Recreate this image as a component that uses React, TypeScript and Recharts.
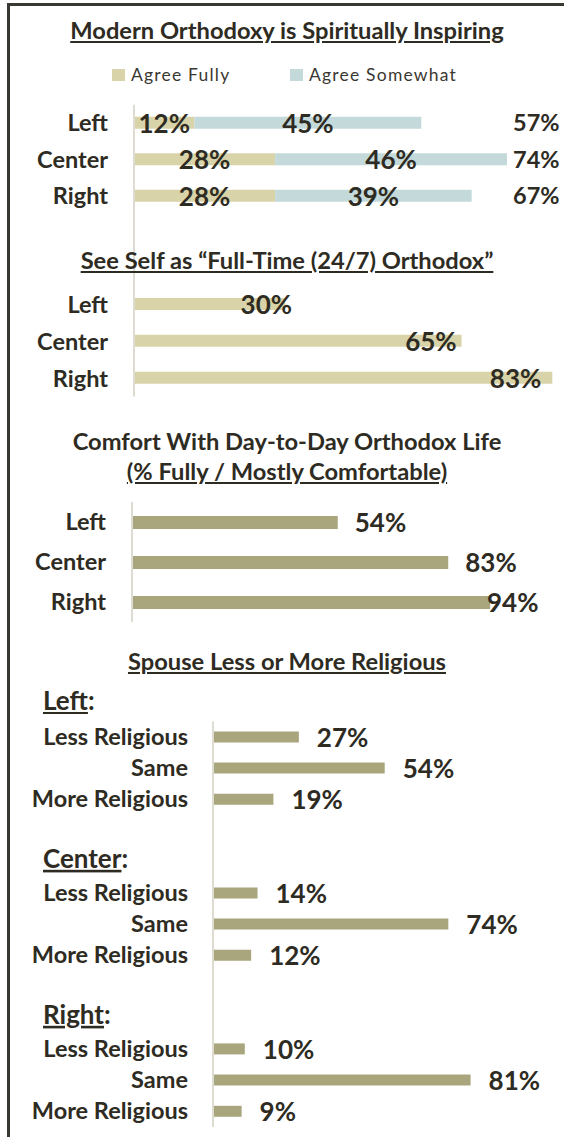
import { Bar, BarChart, LabelList, XAxis, YAxis } from "recharts";

// --- data ---
const GROUPS = ["Left", "Center", "Right"];

const AGREE_FULLY = [12, 28, 28];
const AGREE_SOMEWHAT = [45, 46, 39];
const AGREE_TOTAL = [57, 74, 67];

const FULL_TIME = [30, 65, 83];

const COMFORT = [54, 83, 94];

const SPOUSE_ROWS = [
	"Less Religious",
	"Same",
	"More Religious",
	"",
	"Center:",
	"Less Religious",
	"Same",
	"More Religious",
	"",
	"Right:",
	"Less Religious",
	"Same",
	"More Religious",
];
const SPOUSE_VALUES = [27, 54, 19, null, null, 14, 74, 12, null, null, 10, 81, 9];

const SERIES = [
	{ key: "fully", name: "Agree Fully", color: "#d8d3a8" },
	{ key: "somewhat", name: "Agree Somewhat", color: "#c4d9d9" },
];

// --- style ---
const FONT = "Lato, 'Open Sans', sans-serif";
const TEXT = "#2e2b23";
const AXIS = "#dedbd0";
const OLIVE = "#a9a57c";
const BEIGE = "#d8d3a8";

const inspiringData = GROUPS.map((group, i) => ({
	group,
	fully: AGREE_FULLY[i],
	somewhat: AGREE_SOMEWHAT[i],
	total: `${AGREE_TOTAL[i]}%`,
}));
const fullTimeData = GROUPS.map((group, i) => ({ group, value: FULL_TIME[i] }));
const comfortData = GROUPS.map((group, i) => ({ group, value: COMFORT[i] }));
const spouseData = SPOUSE_ROWS.map((label, i) => ({
	row: `r${i}`,
	label,
	value: SPOUSE_VALUES[i],
}));

const pct = (v: any) => `${v}%`;

function GroupTick(props: any) {
	const { x, y, payload, textAnchor } = props;
	return (
		<text
			x={x}
			y={y}
			dy="0.36em"
			textAnchor={textAnchor}
			fill={TEXT}
			fontFamily={FONT}
			fontWeight={700}
			fontSize={23.5}
		>
			{payload.value}
		</text>
	);
}

function TotalTick(props: any) {
	const { x, y, payload } = props;
	return (
		<text
			x={x}
			y={y}
			dy="0.36em"
			textAnchor="start"
			fill={TEXT}
			style={{ fontFamily: FONT, fontWeight: 700, fontSize: 23.5 }}
		>
			{payload.value}
		</text>
	);
}

function SpouseTick(props: any) {
	const { x, y, index } = props;
	const label = SPOUSE_ROWS[index] ?? "";
	if (label.endsWith(":")) {
		return (
			<text x={43} y={y} dy={6} fill={TEXT} fontFamily={FONT} fontWeight={700} fontSize={26}>
				<tspan style={{ textDecoration: "underline" }}>{label.slice(0, -1)}</tspan>
				<tspan>:</tspan>
			</text>
		);
	}
	return (
		<text
			x={x}
			y={y}
			dy="0.34em"
			textAnchor="end"
			fill={TEXT}
			fontFamily={FONT}
			fontWeight={700}
			fontSize={23.5}
		>
			{label}
		</text>
	);
}

const labelText = (x: number, y: number, anchor: string, value: any) => (
	<text
		x={x}
		y={y}
		dy="0.38em"
		textAnchor={anchor}
		fill={TEXT}
		fontFamily={FONT}
		fontWeight={700}
		fontSize={26}
	>
		{pct(value)}
	</text>
);

const centerLabel = (p: any) =>
	p.value == null ? null : labelText(p.x + p.width / 2, p.y + p.height / 2, "middle", p.value);

// near the bar end, drifting inward on longer bars as in the source
const nearEndLabel = (p: any) =>
	p.value == null ? null : labelText(p.x + p.width * 0.933 + 17, p.y + p.height / 2, "end", p.value);

// outside the bar end; maxStart keeps a long bar's label inside the frame
const outsideLabel = (gap: number, maxStart = Infinity) => (p: any) =>
	p.value == null
		? null
		: labelText(Math.min(p.x + p.width + gap, maxStart), p.y + p.height / 2, "start", p.value);

function Title({ top, children, underline = true }: any) {
	return (
		<div
			style={{
				position: "absolute",
				left: 10,
				width: 554,
				top,
				textAlign: "center",
				fontSize: 23.7,
				lineHeight: "28px",
				fontWeight: 700,
				color: TEXT,
				textDecoration: underline ? "underline" : "none",
				whiteSpace: "nowrap",
			}}
		>
			{children}
		</div>
	);
}

export default function App() {
	return (
		<div
			style={{
				position: "absolute",
				left: 0,
				top: 0,
				width: 564,
				height: 1137,
				background: "#fff",
				fontFamily: FONT,
				overflow: "hidden",
			}}
		>
			{/* frame */}
			<div
				style={{
					position: "absolute",
					left: 7,
					top: 3,
					width: 600,
					height: 1200,
					borderTop: "3px solid #3a3832",
					borderLeft: "3px solid #3a3832",
				}}
			/>

			<Title top={15.5}>Modern Orthodoxy is Spiritually Inspiring</Title>

			{/* legend */}
			{SERIES.map((s, i) => (
				<div
					key={s.key}
					style={{
						position: "absolute",
						left: i === 0 ? 112 : 290,
						top: 64,
						display: "flex",
						alignItems: "center",
						fontSize: 17.5,
						color: "#3a3832",
						letterSpacing: 1.2,
					}}
				>
					<span style={{ width: 13, height: 12, background: s.color, marginRight: 6 }} />
					{s.name}
				</div>
			))}

			{/* connector for the shared axis line of the first two charts */}
			<div style={{ position: "absolute", left: 133, top: 214, width: 2, height: 73, background: AXIS }} />

			<div style={{ position: "absolute", left: 0, top: 100 }}>
				<BarChart
					width={564}
					height={120}
					data={inspiringData}
					layout="vertical"
					margin={{ top: 4.75, right: 0, bottom: 5.75, left: 0 }}
				>
					<XAxis type="number" domain={[0, 74.6]} allowDataOverflow hide />
					<YAxis
						yAxisId="name"
						type="category"
						dataKey="group"
						width={134}
						tickLine={false}
						tickSize={0}
						tickMargin={26}
						axisLine={{ stroke: AXIS, strokeWidth: 2 }}
						tick={<GroupTick />}
					/>
					<YAxis
						yAxisId="total"
						type="category"
						dataKey="total"
						orientation="right"
						width={54}
						tickLine={false}
						tickSize={0}
						tickMargin={3}
						axisLine={false}
						tick={<TotalTick />}
					/>
					{SERIES.map((s) => (
						<Bar
							key={s.key}
							yAxisId="name"
							dataKey={s.key}
							name={s.name}
							stackId="agree"
							fill={s.color}
							barSize={12}
							isAnimationActive={false}
						>
							<LabelList dataKey={s.key} content={centerLabel} />
						</Bar>
					))}
				</BarChart>
			</div>

			<Title top={245.8}>See Self as “Full-Time (24/7) Orthodox”</Title>

			<div style={{ position: "absolute", left: 0, top: 280 }}>
				<BarChart
					width={564}
					height={122}
					data={fullTimeData}
					layout="vertical"
					margin={{ top: 6, right: 1.6, bottom: 5.5, left: 0 }}
				>
					<XAxis type="number" domain={[0, 85]} allowDataOverflow hide />
					<YAxis
						type="category"
						dataKey="group"
						width={134}
						tickLine={false}
						tickSize={0}
						tickMargin={26}
						axisLine={{ stroke: AXIS, strokeWidth: 2 }}
						tick={<GroupTick />}
					/>
					<Bar dataKey="value" fill={BEIGE} barSize={12} isAnimationActive={false}>
						<LabelList dataKey="value" content={nearEndLabel} />
					</Bar>
				</BarChart>
			</div>

			<Title top={427} underline={false}>
				Comfort With Day-to-Day Orthodox Life
			</Title>
			<Title top={456.8}>(% Fully / Mostly Comfortable)</Title>

			<div style={{ position: "absolute", left: 0, top: 495 }}>
				<BarChart
					width={564}
					height={135}
					data={comfortData}
					layout="vertical"
					margin={{ top: 7, right: 51, bottom: 8, left: 0 }}
				>
					<XAxis type="number" domain={[0, 100]} allowDataOverflow hide />
					<YAxis
						type="category"
						dataKey="group"
						width={132}
						tickLine={false}
						tickSize={0}
						tickMargin={26}
						axisLine={{ stroke: AXIS, strokeWidth: 2 }}
						tick={<GroupTick />}
					/>
					<Bar dataKey="value" fill={OLIVE} barSize={13} isAnimationActive={false}>
						<LabelList dataKey="value" content={outsideLabel(17, 487)} />
					</Bar>
				</BarChart>
			</div>

			<Title top={646.8}>Spouse Less or More Religious</Title>

			<div
				style={{
					position: "absolute",
					left: 43,
					top: 685,
					fontSize: 26,
					lineHeight: "31px",
					fontWeight: 700,
					color: TEXT,
				}}
			>
				<span style={{ textDecoration: "underline" }}>Left</span>:
			</div>

			<div style={{ position: "absolute", left: 0, top: 715 }}>
				<BarChart
					width={564}
					height={420}
					data={spouseData}
					layout="vertical"
					margin={{ top: 6.4, right: 33, bottom: 8, left: 0 }}
				>
					<XAxis type="number" domain={[0, 100]} allowDataOverflow hide />
					<YAxis
						type="category"
						dataKey="row"
						width={213}
						tickLine={false}
						tickSize={0}
						tickMargin={25}
						axisLine={{ stroke: AXIS, strokeWidth: 2 }}
						tick={<SpouseTick />}
						interval={0}
					/>
					<Bar dataKey="value" fill={OLIVE} barSize={11} isAnimationActive={false}>
						<LabelList dataKey="value" content={outsideLabel(18)} />
					</Bar>
				</BarChart>
			</div>
		</div>
	);
}
